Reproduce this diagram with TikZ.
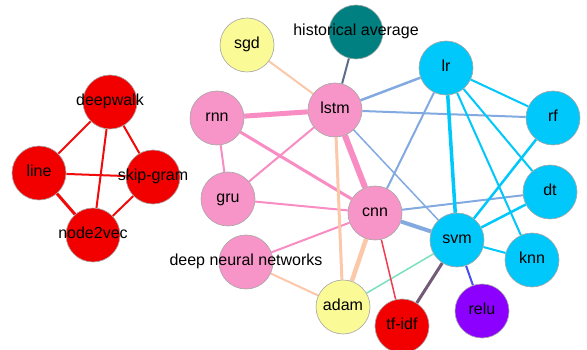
\documentclass[tikz,border=0pt]{standalone}
\usepackage{fontspec}
\setmainfont{Liberation Sans}
\usetikzlibrary{backgrounds}
\definecolor{nred}{RGB}{242,0,0}
\definecolor{npink}{RGB}{247,148,200}
\definecolor{nyellow}{RGB}{250,250,150}
\definecolor{nteal}{RGB}{0,128,128}
\definecolor{ncyan}{RGB}{0,200,250}
\definecolor{npurple}{RGB}{140,0,255}
\definecolor{eredc}{RGB}{242,10,10}
\definecolor{epink}{RGB}{248,140,195}
\definecolor{epeach}{RGB}{252,200,170}
\definecolor{elblue}{RGB}{130,170,225}
\definecolor{ecyan}{RGB}{0,200,250}
\definecolor{eslate}{RGB}{90,110,140}
\definecolor{eteal}{RGB}{120,225,190}
\definecolor{emauve}{RGB}{115,90,120}
\definecolor{ecrimson}{RGB}{240,60,80}
\definecolor{eblue}{RGB}{70,80,240}
\tikzset{
  nd/.style={circle, draw=gray!70, line width=0.6pt, minimum size=54pt, inner sep=0pt, font=\fontsize{16}{18}\selectfont},
  rd/.style={nd, fill=nred},
  pk/.style={nd, fill=npink},
  yl/.style={nd, fill=nyellow},
  tl/.style={nd, fill=nteal},
  cy/.style={nd, fill=ncyan},
  pu/.style={nd, fill=npurple},
}
\newcommand{\lbl}[1]{\makebox[0pt][c]{\strut #1}}
\begin{document}
\begin{tikzpicture}[x=1pt,y=-1pt]
\useasboundingbox (0,0) rectangle (587,350);
% nodes
\node[rd] (deepwalk) at (110,102) {\lbl{deepwalk}};
\node[rd] (line) at (39,173) {\lbl{line}};
\node[rd] (skipgram) at (153,177) {\lbl{skip-gram}};
\node[rd] (node2vec) at (93,235) {\lbl{node2vec}};
\node[yl] (sgd) at (247,45) {\lbl{sgd}};
\node[tl] (hist) at (356,32) {\lbl{historical average}};
\node[pk] (lstm) at (335,110) {\lbl{lstm}};
\node[pk] (rnn) at (217,118) {\lbl{rnn}};
\node[cy] (lr) at (446,68) {\lbl{lr}};
\node[cy] (rf) at (553,118) {\lbl{rf}};
\node[cy] (dt) at (550,192) {\lbl{dt}};
\node[pk] (gru) at (228,199) {\lbl{gru}};
\node[pk] (cnn) at (375,213) {\lbl{cnn}};
\node[pk] (dnn) at (246,262) {\lbl{deep neural networks}};
\node[yl] (adam) at (343,307) {\lbl{adam}};
\node[rd] (tfidf) at (402,326) {\lbl{tf-idf}};
\node[cy] (svm) at (457,240) {\lbl{svm}};
\node[cy] (knn) at (532,260) {\lbl{knn}};
\node[pu] (relu) at (482,311) {\lbl{relu}};
% edges
\begin{scope}[on background layer]
\fill[white] (0,0) rectangle (587,350);
\draw[eredc, line width=2pt] (deepwalk) -- (line);
\draw[eredc, line width=2pt] (deepwalk) -- (skipgram);
\draw[eredc, line width=2pt] (deepwalk) -- (node2vec);
\draw[eredc, line width=2pt] (line) -- (skipgram);
\draw[eredc, line width=3pt] (line) -- (node2vec);
\draw[eredc, line width=2pt] (skipgram) -- (node2vec);
\draw[epink, line width=5pt] (lstm) -- (rnn);
\draw[epink, line width=6pt] (lstm) -- (cnn);
\draw[epink, line width=2pt] (lstm) -- (gru);
\draw[epink, line width=2pt] (rnn) -- (gru);
\draw[epink, line width=3pt] (rnn) -- (cnn);
\draw[epink, line width=2pt] (gru) -- (cnn);
\draw[epink, line width=2pt] (dnn) -- (cnn);
\draw[epeach, line width=2pt] (sgd) -- (lstm);
\draw[epeach, line width=3pt] (lstm) -- (adam);
\draw[epeach, line width=4.5pt] (cnn) -- (adam);
\draw[epeach, line width=2pt] (dnn) -- (adam);
\draw[eslate, line width=2pt] (hist) -- (lstm);
\draw[elblue, line width=2.5pt] (lstm) -- (lr);
\draw[elblue, line width=2pt] (lstm) -- (rf);
\draw[elblue, line width=1.5pt] (lstm) -- (svm);
\draw[elblue, line width=2pt] (lr) -- (cnn);
\draw[elblue, line width=4pt] (cnn) -- (svm);
\draw[elblue, line width=2pt] (cnn) -- (dt);
\draw[ecyan, line width=2pt] (lr) -- (rf);
\draw[ecyan, line width=3.5pt] (lr) -- (svm);
\draw[ecyan, line width=2pt] (lr) -- (knn);
\draw[ecyan, line width=2pt] (lr) -- (dt);
\draw[ecyan, line width=2.5pt] (rf) -- (svm);
\draw[ecyan, line width=2.5pt] (dt) -- (svm);
\draw[ecyan, line width=2pt] (svm) -- (knn);
\draw[eteal, line width=1.5pt] (svm) -- (adam);
\draw[emauve, line width=3pt] (svm) -- (tfidf);
\draw[ecrimson, line width=1.5pt] (cnn) -- (tfidf);
\draw[eblue, line width=2pt] (svm) -- (relu);
\end{scope}
\end{tikzpicture}
\end{document}
